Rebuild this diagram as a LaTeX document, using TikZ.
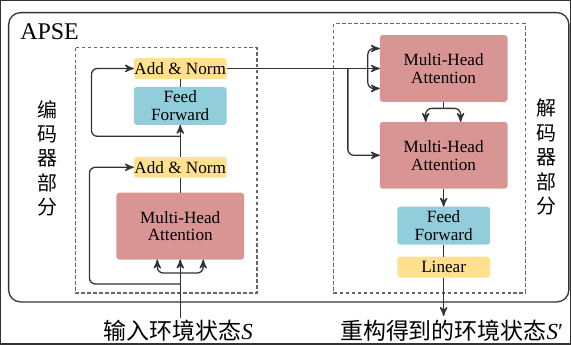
\documentclass[tikz,border=0pt]{standalone}
\usepackage{fontspec}
\setmainfont{Liberation Serif}
\newfontfamily\cjk{Noto Sans CJK SC}
\usepackage{tikz}
\usetikzlibrary{arrows}
\usetikzlibrary{positioning}
\definecolor{addcol}{HTML}{FFE08F}
\definecolor{ffcol}{HTML}{92CDDC}
\definecolor{mhacol}{HTML}{D99594}
\definecolor{linecol}{HTML}{333333}

\begin{document}
\begin{tikzpicture}[x=0.5pt,y=-0.5pt,>=stealth',line width=0.65pt,
	every path/.style={draw=linecol},
	block/.style={rectangle,rounded corners=1.5pt,draw=none,inner sep=0pt,outer sep=0pt,align=center,
		font=\rmfamily\fontsize{8.6}{9}\selectfont},
	mha node/.style={block,fill=mhacol,minimum width=64pt,minimum height=33.5pt},
	ff node/.style={block,fill=ffcol,minimum width=46.5pt,minimum height=19pt},
	add node/.style={block,fill=addcol,minimum width=46.5pt,minimum height=10.5pt},
	part box/.style={draw=gray!80!black,line width=0.6pt,dash pattern=on 1.8pt off 1.2pt},
	side text/.style={font=\cjk\fontsize{10}{12.25}\selectfont,align=center,inner sep=0pt},
	io text/.style={font=\cjk\fontsize{11.5}{13}\selectfont,inner sep=0pt}]
	
	\useasboundingbox (0,0) rectangle (571,344);
	\draw[rounded corners=6pt] (8,12) rectangle (569.5,302);
	\node[anchor=west,inner sep=0pt,font=\rmfamily\fontsize{12}{14}\selectfont] (apse) at (19,31) {APSE};
	
	% encoder
	\draw[part box] (75,47) rectangle (257,293);
	\node[mha node] (eatt) at (180,226) {Multi-Head\\Attention};
	\node[add node] (eadd1) [above=7.5pt of eatt] {Add \& Norm};
	\node[ff node] (eff) [above=16pt of eadd1] {Feed\\Forward};
	\node[add node] (eadd2) [above=4pt of eff] {Add \& Norm};
	\node[side text] (enclabel) at (47,158) {编\\码\\器\\部\\分};
	
	% decoder
	\draw[part box] (334,23) rectangle (526,293);
	\node[mha node] (datt1) at (444,68) {Multi-Head\\Attention};
	\node[mha node] (datt2) [below=10pt of datt1] {Multi-Head\\Attention};
	\node[ff node] (dff) [below=9pt of datt2] {Feed\\Forward};
	\node[add node] (dlin) [below=6pt of dff] {Linear};
	\node[side text] (declabel) at (547,157) {解\\码\\器\\部\\分};
	
	% input and output
	\node[io text] (intext) at (178,331) {输入环境状态{\rmfamily\itshape S}};
	\node[io text] (outtext) at (452,331) {重构得到的环境状态{\rmfamily\itshape S}{\rmfamily ′}};
	\coordinate (in) at (180,318);
	\coordinate (infork) at (180,273);
	\coordinate (res1) at (180,284);
	\coordinate (res2) at (180,136);
	\coordinate (split) at (348,68);
	\coordinate (dfork) at (368,68);
	\coordinate (mfork) at (444,108);
	\coordinate (out) at (444,316);
	
	% encoder connections
	\draw[->] (in) -- (eatt.south);
	\draw[->,rounded corners=3pt] (infork) -| ([xshift=-11.5pt]eatt.south);
	\draw[->,rounded corners=3pt] (infork) -| ([xshift=11.5pt]eatt.south);
	\draw[->,rounded corners=3pt] (res1) -- (89,284) |- (eadd1.west);
	\draw (eatt.north) -- (eadd1.south);
	\draw[->] (eadd1.north) -- (eff.south);
	\draw[->,rounded corners=3pt] (res2) -- (91,136) |- (eadd2.west);
	\draw (eff.north) -- (eadd2.south);
	
	% decoder connections
	\draw[->] (eadd2.east) -- (datt1.west);
	\draw[->,rounded corners=3pt] (dfork) |- ([yshift=10pt]datt1.west);
	\draw[->,rounded corners=3pt] (dfork) |- ([yshift=-10pt]datt1.west);
	\draw[->,rounded corners=3pt] (split) |- (datt2.west);
	\draw (datt1.south) -- (mfork);
	\draw[->,rounded corners=3pt] (mfork) -| ([xshift=-9pt]datt2.north);
	\draw[->,rounded corners=3pt] (mfork) -| ([xshift=8.5pt]datt2.north);
	\draw[->] (datt2.south) -- (dff.north);
	\draw (dff.south) -- (dlin.north);
	\draw[->] (dlin.south) -- (out);
\end{tikzpicture}
\end{document}
